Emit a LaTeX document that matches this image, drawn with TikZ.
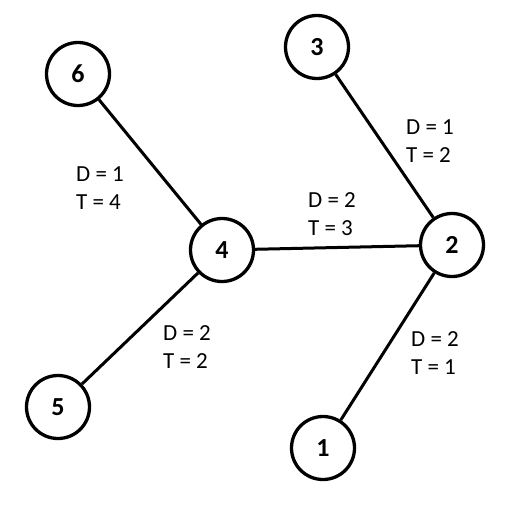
\documentclass[tikz,border=0pt]{standalone}
\usepackage{fontspec}
\setmainfont{Carlito}
\begin{document}
\begin{tikzpicture}[x=1pt,y=-1pt,
  vtx/.style={circle,draw,line width=3.3pt,minimum size=63pt,inner sep=0pt,font=\fontsize{26}{28}\selectfont\bfseries},
  lbl/.style={align=left,font=\fontsize{23}{28}\selectfont,inner sep=0pt},
  edge/.style={line width=3pt}]
\useasboundingbox (0,0) rectangle (524,509);
\node[vtx] (n6) at (78,74) {6};
\node[vtx] (n3) at (317,47) {3};
\node[vtx] (n4) at (222,250) {4};
\node[vtx] (n2) at (452,245) {2};
\node[vtx] (n5) at (58,407) {5};
\node[vtx] (n1) at (323,448) {1};
\draw[edge] (n6) -- (n4);
\draw[edge] (n5) -- (n4);
\draw[edge] (n4) -- (n2);
\draw[edge] (n3) -- (n2);
\draw[edge] (n1) -- (n2);
\node[lbl] (l64) at (100,188) {D = 1\\T = 4};
\node[lbl] (l32) at (430,141) {D = 1\\T = 2};
\node[lbl] (l42) at (332,214) {D = 2\\T = 3};
\node[lbl] (l54) at (187,347) {D = 2\\T = 2};
\node[lbl] (l12) at (435,353) {D = 2\\T = 1};
\end{tikzpicture}
\end{document}
